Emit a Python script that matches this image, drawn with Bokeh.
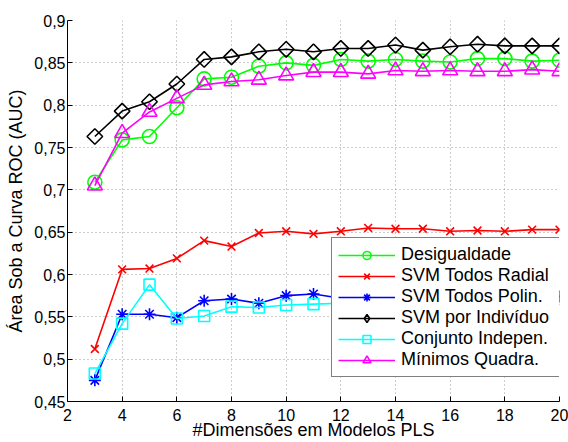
import numpy as np
from bokeh.plotting import figure
from bokeh.models import Range1d, FixedTicker, Legend, LegendItem
from bokeh.embed import file_html
from bokeh.resources import INLINE

# ---- data ----
dims = [3, 4, 5, 6, 7, 8, 9, 10, 11, 12, 13, 14, 15, 16, 17, 18, 19, 20]
desigualdade = [0.709, 0.759, 0.763, 0.797, 0.831, 0.833, 0.846, 0.850, 0.847, 0.854,
                0.852, 0.854, 0.852, 0.851, 0.855, 0.855, 0.852, 0.853]
svm_todos_radial = [0.512, 0.606, 0.607, 0.619, 0.640, 0.633, 0.649, 0.651, 0.648, 0.651,
                    0.655, 0.654, 0.654, 0.651, 0.652, 0.651, 0.653, 0.653]
svm_todos_polin = [0.475, 0.553, 0.553, 0.549, 0.569, 0.571, 0.566, 0.575, 0.577, 0.572,
                   0.573, 0.575, 0.573, 0.574, 0.575, 0.574, 0.575, 0.574]
svm_por_individuo = [0.763, 0.793, 0.804, 0.825, 0.854, 0.857, 0.863, 0.866, 0.863, 0.867,
                     0.867, 0.871, 0.865, 0.869, 0.872, 0.870, 0.870, 0.870]
conjunto_indepen = [0.483, 0.542, 0.588, 0.548, 0.551, 0.562, 0.561, 0.564, 0.565, 0.566,
                    0.567, 0.568, 0.568, 0.569, 0.569, 0.570, 0.570, 0.571]
minimos_quadra = [0.705, 0.767, 0.792, 0.808, 0.824, 0.828, 0.830, 0.835, 0.839, 0.839,
                  0.837, 0.841, 0.840, 0.841, 0.840, 0.840, 0.842, 0.840]

series_names = ["Desigualdade", "SVM Todos Radial", "SVM Todos Polin.",
                "SVM por Indivíduo", "Conjunto Indepen.", "Mínimos Quadra."]

x_ticks = [2, 4, 6, 8, 10, 12, 14, 16, 18, 20]
x_tick_labels = ["2", "4", "6", "8", "10", "12", "14", "16", "18", "20"]
y_ticks = [0.45, 0.5, 0.55, 0.6, 0.65, 0.7, 0.75, 0.8, 0.85, 0.9]
y_tick_labels = ["0,45", "0,5", "0,55", "0,6", "0,65", "0,7", "0,75", "0,8", "0,85", "0,9"]

x_label = "#Dimensões em Modelos PLS"
y_label = "Área Sob a Curva ROC (AUC)"

FONT = "Liberation Sans"

p = figure(width=568, height=442, output_backend="svg", toolbar_location=None,
           x_range=Range1d(2, 20), y_range=Range1d(0.45, 0.9),
           min_border_left=67, min_border_right=9, min_border_top=20, min_border_bottom=40)
p.outline_line_color = None
p.background_fill_color = "white"
p.border_fill_color = "white"
# an off-screen range, used only so the legend can show a diamond glyph
p.extra_x_ranges = {"legend_only": Range1d(1000, 1001)}

# axes
p.xaxis.ticker = FixedTicker(ticks=x_ticks)
p.yaxis.ticker = FixedTicker(ticks=y_ticks)
p.xaxis.major_label_overrides = {t: l for t, l in zip(x_ticks, x_tick_labels)}
p.yaxis.major_label_overrides = {t: l for t, l in zip(y_ticks, y_tick_labels)}
for ax in (p.xaxis, p.yaxis):
    ax.major_tick_in = 5
    ax.major_tick_out = 0
    ax.minor_tick_line_color = None
    ax.axis_line_color = "black"
    ax.major_tick_line_color = "black"
    ax.major_label_text_font = FONT
    ax.major_label_text_font_size = "16px"
    ax.major_label_text_color = "black"
    ax.axis_label_text_font = FONT
    ax.axis_label_text_font_size = "18px"
    ax.axis_label_text_font_style = "normal"
    ax.axis_label_text_color = "black"
p.xaxis.axis_label = x_label
p.yaxis.axis_label = y_label
p.xaxis.major_label_standoff = 7
p.xaxis.axis_label_standoff = -4
p.yaxis.major_label_standoff = 2
p.yaxis.axis_label_standoff = 5

p.grid.grid_line_color = "#9a9a9a"
p.grid.grid_line_dash = "1 3"
p.grid.grid_line_width = 1

colors = ["#00ff00", "#ff0000", "#0000ff", "#000000", "#00ffff", "#ff00ff"]
data = [desigualdade, svm_todos_radial, svm_todos_polin, svm_por_individuo,
        conjunto_indepen, minimos_quadra]
# (marker in plot, size, angle, marker shown in legend)
markers = [("circle", 14, 0, None), ("x", 11, 0, None), ("asterisk", 12, 0, None),
           ("square", 11, np.pi / 4, "diamond"), ("square", 11, 0, None),
           ("triangle", 15, 0, None)]

items = []
for name, ys, c, (mk, sz, ang, lmk) in zip(series_names, data, colors, markers):
    r1 = p.line(dims, ys, line_color=c, line_width=1.6)
    r2 = p.scatter(dims, ys, marker=mk, size=sz, angle=ang, line_color=c,
                   fill_color=None, line_width=1.6)
    if lmk is None:
        items.append(LegendItem(label=name, renderers=[r1, r2]))
    else:
        r3 = p.scatter(dims, ys, marker=lmk, size=sz, line_color=c,
                       fill_color=None, line_width=1.6, x_range_name="legend_only")
        items.append(LegendItem(label=name, renderers=[r1, r3]))

legend = Legend(items=items, location=(264, 24))
legend.label_text_font = FONT
legend.label_text_font_size = "18px"
legend.label_text_color = "black"
legend.border_line_color = "black"
legend.border_line_width = 1.2
legend.background_fill_color = "white"
legend.background_fill_alpha = 1.0
legend.glyph_width = 57
legend.glyph_height = 20
legend.label_height = 20
legend.label_width = 157
legend.spacing = 0
legend.padding = 6
legend.margin = 0
legend.label_standoff = 6
p.add_layout(legend)

open("out.html", "w").write(file_html(p, INLINE))
